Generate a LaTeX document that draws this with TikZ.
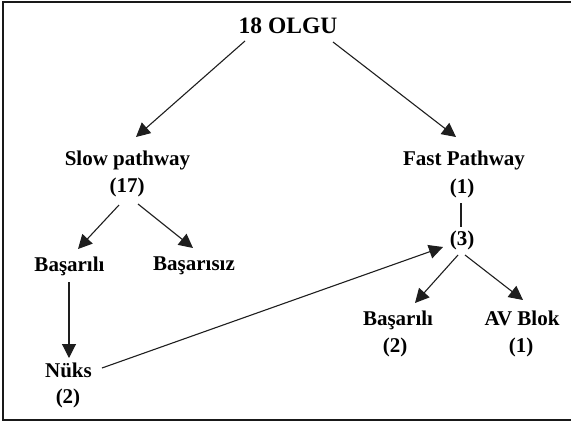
\documentclass[tikz,border=0pt]{standalone}
\usepackage{fontspec}
\setmainfont{Liberation Serif}
\usetikzlibrary{arrows.meta,calc}
\definecolor{ink}{HTML}{1E1E1E}
\tikzset{
  lbl/.style={anchor=base,inner sep=0pt,font=\bfseries\fontsize{21}{25}\selectfont,text=black},
  ttl/.style={anchor=base,inner sep=0pt,font=\bfseries\fontsize{23.5}{28}\selectfont,text=black},
  arr/.style={draw=ink,line width=1.1pt,-{Triangle[length=14pt,width=14pt]}},
  plain/.style={draw=ink,line width=1.1pt},
  frame/.style={draw=black!90,line width=2pt}
}
\begin{document}
\begin{tikzpicture}[x=1pt,y=-1pt]
  \useasboundingbox (0,0) rectangle (571,423);
  % outer frame (open on the right)
  \draw[frame] (571,2) -- (3,2) -- (3,420) -- (571,420);

  % labels
  \node[ttl] (olgu)  at (288,33)   {18 OLGU};
  \node[lbl] (slow)  at (127.5,165) {Slow pathway};
  \node[lbl] (slown) at (127,192)  {(17)};
  \node[lbl] (fast)  at (464,165)  {Fast Pathway};
  \node[lbl] (fastn) at (462,193)  {(1)};
  \node[lbl] (three) at (462,245)  {(3)};
  \node[lbl] (bas1)  at (69.5,271) {Başarılı};
  \node[lbl] (basz)  at (194,270)  {Başarısız};
  \node[lbl] (nuks)  at (68.5,377) {Nüks};
  \node[lbl] (nuksn) at (68,403)   {(2)};
  \node[lbl] (bas2)  at (398,325)  {Başarılı};
  \node[lbl] (bas2n) at (395,352)  {(2)};
  \node[lbl] (av)    at (522,325)  {AV Blok};
  \node[lbl] (avn)   at (521,352)  {(1)};

  % connectors
  \draw[arr] ($(olgu.base)+(-43,8)$) -- ($(slow.base)+(8.5,-28)$);
  \draw[arr] ($(olgu.base)+(45,9)$) -- ($(fast.base)+(-8,-28)$);
  \draw[arr] ($(slown.base)+(-8,13)$) -- ($(bas1.base)+(8.5,-22)$);
  \draw[arr] ($(slown.base)+(11,12)$) -- ($(basz.base)+(-1,-22)$);
  \draw[arr] ($(bas1.base)+(-0.5,11)$) -- ($(nuks.base)+(0.5,-19)$);
  \draw[arr] ($(nuks.base)+(33.5,-9)$) -- ($(three.base)+(-19,2)$);
  \draw[plain] ($(fastn.base)+(-1,10)$) -- ($(three.base)+(-1,-18)$);
  \draw[arr] ($(three.base)+(-4,10)$) -- ($(bas2.base)+(17,-22)$);
  \draw[arr] ($(three.base)+(3,10)$) -- ($(av.base)+(1,-25)$);
\end{tikzpicture}
\end{document}
